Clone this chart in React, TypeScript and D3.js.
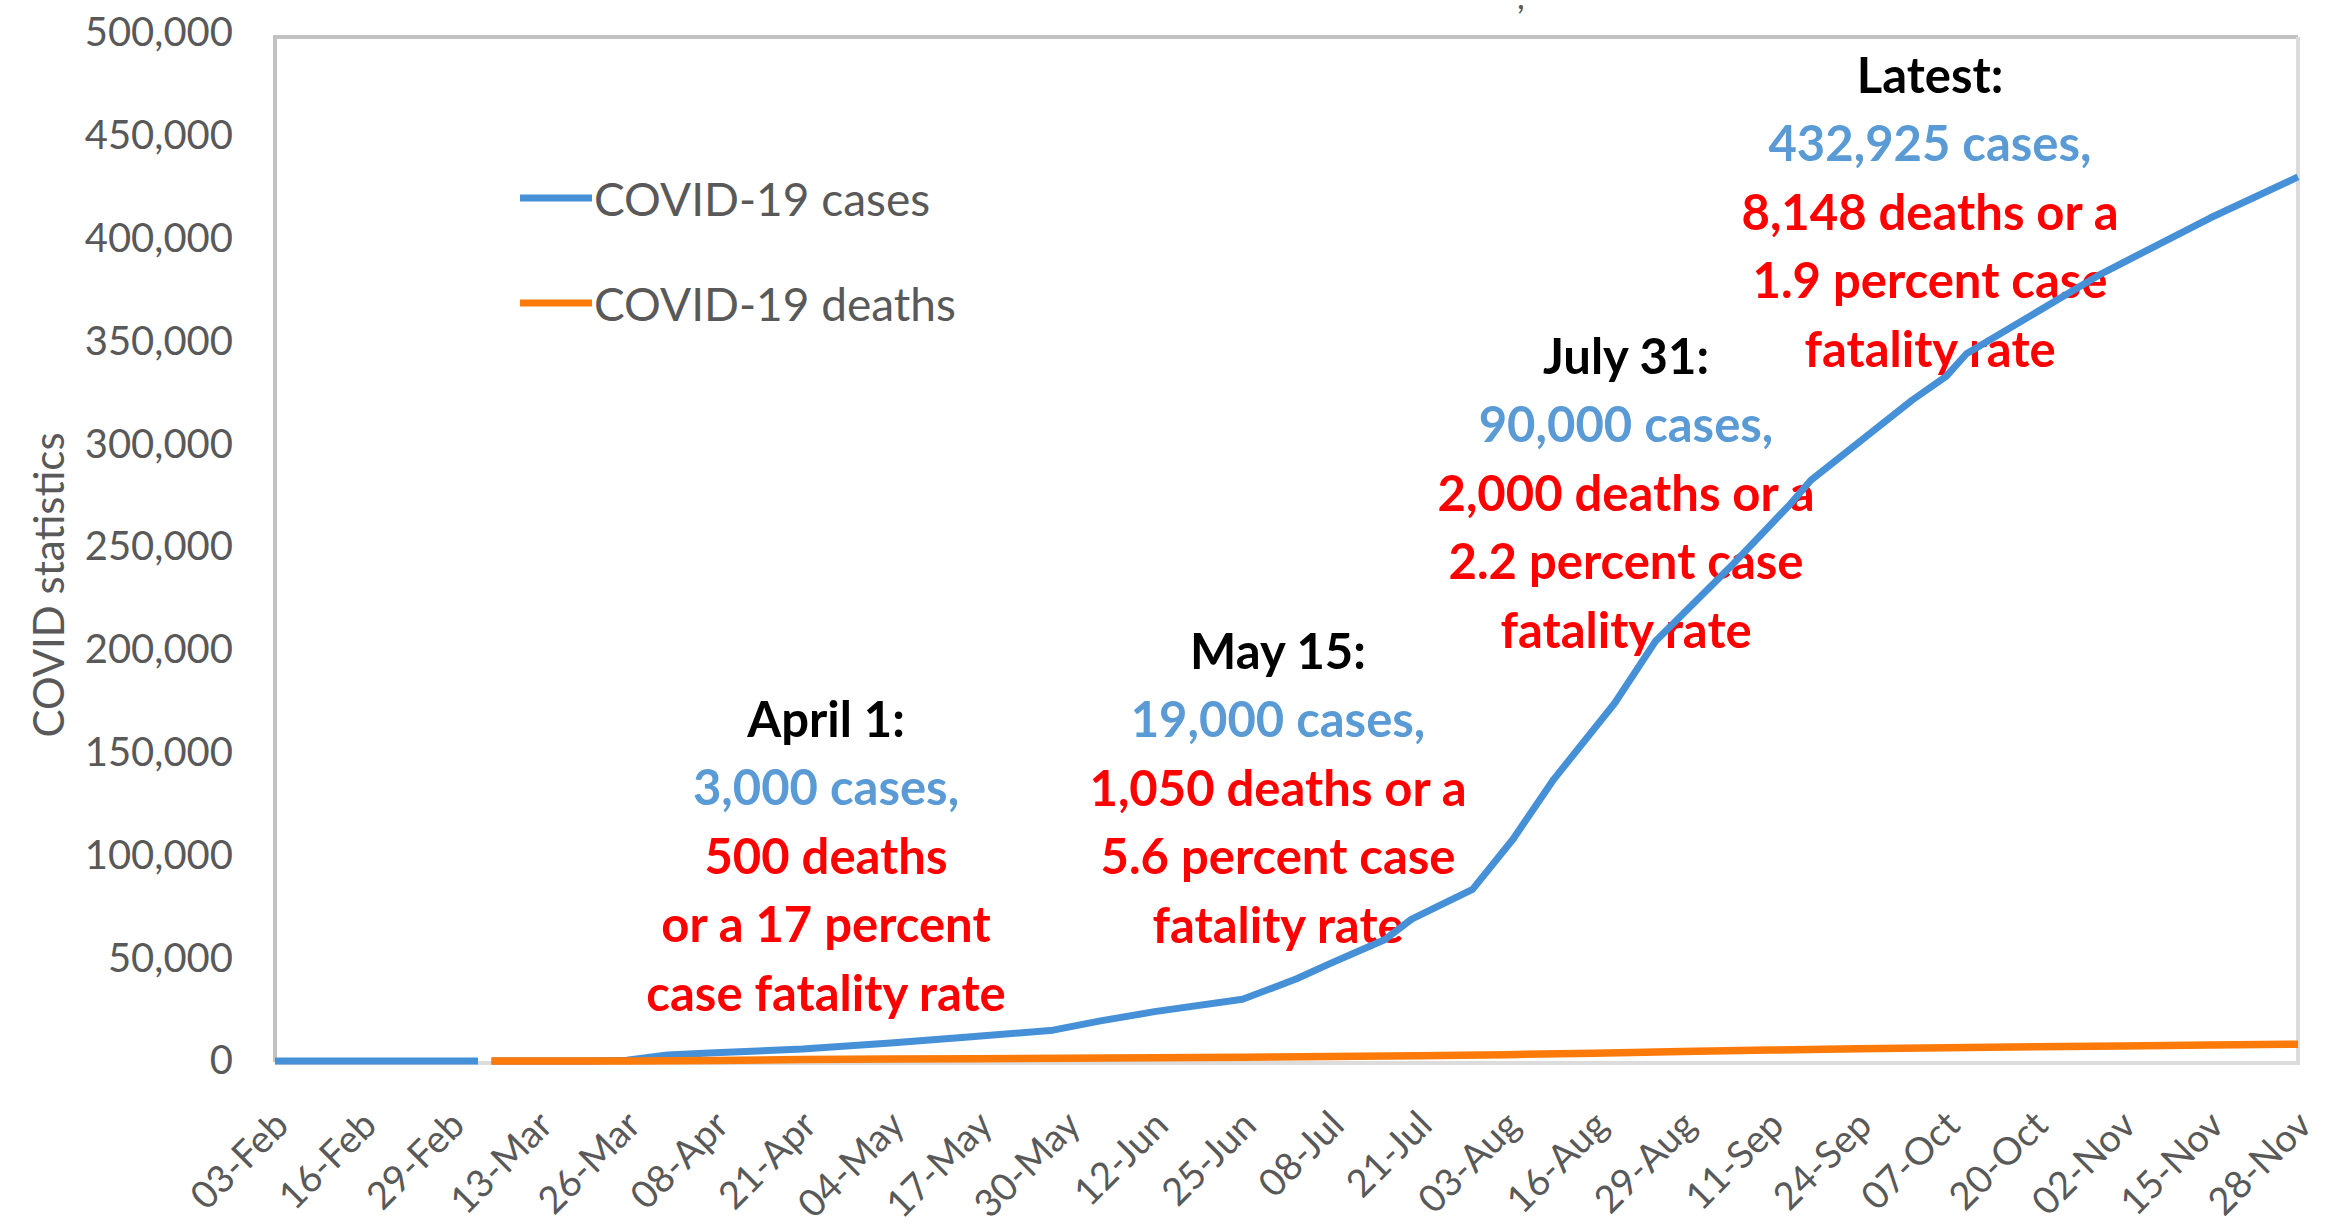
import React, { useEffect, useRef } from "react";
import * as d3 from "d3";

// cumulative cases (null = gap in the source line)
const caseDates = [
  "2020-02-03", "2020-02-16", "2020-02-29", "2020-03-04", "2020-03-05", "2020-03-06",
  "2020-03-13", "2020-03-20", "2020-03-26", "2020-04-01", "2020-04-08", "2020-04-21",
  "2020-05-04", "2020-05-15", "2020-05-28", "2020-06-04", "2020-06-12", "2020-06-25",
  "2020-07-03", "2020-07-08", "2020-07-16", "2020-07-20", "2020-07-29", "2020-08-04",
  "2020-08-10", "2020-08-19", "2020-08-25", "2020-09-05", "2020-09-14", "2020-09-17",
  "2020-10-02", "2020-10-07", "2020-10-10", "2020-10-30", "2020-11-15", "2020-11-28",
];
const caseValues = [
  0, 0, 0, 0, null, 0,
  0, 0, 400, 2900, 4000, 5800,
  8800, 11500, 15000, 19500, 24000, 30000,
  40000, 47500, 59000, 69000, 83500, 108000,
  137000, 174000, 204000, 240000, 271000, 282500,
  321500, 333000, 344000, 383000, 410000, 430000,
];

const deathDates = [
  "2020-03-06", "2020-03-26", "2020-04-08", "2020-04-21", "2020-05-04", "2020-05-17",
  "2020-05-30", "2020-06-12", "2020-06-25", "2020-07-08", "2020-07-21", "2020-08-03",
  "2020-08-16", "2020-08-29", "2020-09-11", "2020-09-24", "2020-10-07", "2020-10-20",
  "2020-11-02", "2020-11-15", "2020-11-28",
];
const deathValues = [
  0, 50, 300, 700, 950, 1150,
  1350, 1600, 1850, 2150, 2500, 3100,
  3800, 4600, 5300, 5900, 6400, 6900,
  7300, 7750, 8148,
];

const tickDates = [
  "2020-02-03", "2020-02-16", "2020-02-29", "2020-03-13", "2020-03-26", "2020-04-08",
  "2020-04-21", "2020-05-04", "2020-05-17", "2020-05-30", "2020-06-12", "2020-06-25",
  "2020-07-08", "2020-07-21", "2020-08-03", "2020-08-16", "2020-08-29", "2020-09-11",
  "2020-09-24", "2020-10-07", "2020-10-20", "2020-11-02", "2020-11-15", "2020-11-28",
];
const yTicks = [0, 50000, 100000, 150000, 200000, 250000, 300000, 350000, 400000, 450000, 500000];

const legendLabels = ["COVID-19 cases", "COVID-19 deaths"];

const noteHeads = ["April 1:", "May 15:", "July 31:", "Latest:"];
const noteCases = ["3,000 cases,", "19,000 cases,", "90,000 cases,", "432,925 cases,"];
const noteDeaths = [
  ["500 deaths", "or a 17 percent", "case fatality rate"],
  ["1,050 deaths or a", "5.6 percent case", "fatality rate"],
  ["2,000 deaths or a", "2.2 percent case", "fatality rate"],
  ["8,148 deaths or a", "1.9 percent case", "fatality rate"],
];

const W = 2331;
const H = 1229;
const left = 275;
const right = 2298;
const boxTop = 37;
const yTopPx = 33;
const yZeroPx = 1061;
const font = "Lato, 'Open Sans', sans-serif";
const blue = "#4690d8";
const orange = "#fb7a09";
const grey = "#595959";

const noteX = [826, 1278, 1626, 1930];
const noteTop = [718, 650, 355, 74];
const noteGap = 68.4;

export default function App() {
  const ref = useRef<SVGSVGElement>(null);

  useEffect(() => {
    const svg = d3.select(ref.current);
    svg.selectAll("*").remove();
    const parse = d3.utcParse("%Y-%m-%d");

    const x = d3.scaleUtc()
      .domain([parse(tickDates[0])!, parse(tickDates[tickDates.length - 1])!])
      .range([left, right]);
    const y = d3.scaleLinear().domain([0, 500000]).range([yZeroPx, yTopPx]);

    svg.append("rect").attr("width", W).attr("height", H).attr("fill", "#fff");

    // plot frame
    svg.append("path")
      .attr("d", `M${left},${yZeroPx + 1}V${boxTop}H${right}`)
      .attr("fill", "none").attr("stroke", "#c2c2c2").attr("stroke-width", 4);
    svg.append("path")
      .attr("d", `M${right},${boxTop}V${yZeroPx + 2}H${left}`)
      .attr("fill", "none").attr("stroke", "#dcdcdc").attr("stroke-width", 4);

    // y axis
    const yAxis = svg.append("g")
      .attr("transform", `translate(${left},0)`)
      .call(d3.axisLeft(y).tickValues(yTicks).tickSize(0).tickPadding(42).tickFormat(d3.format(",")));
    yAxis.select(".domain").remove();
    yAxis.selectAll("text")
      .attr("font-family", font).attr("font-size", 40).attr("fill", grey);

    // x axis
    const xAxis = svg.append("g")
      .attr("transform", `translate(0,${yZeroPx})`)
      .call(d3.axisBottom(x).tickValues(tickDates.map(d => parse(d)!)).tickSize(0).tickFormat(d3.utcFormat("%d-%b") as any));
    xAxis.select(".domain").remove();
    xAxis.selectAll("text")
      .attr("font-family", font).attr("font-size", 38).attr("fill", grey)
      .attr("text-anchor", "end")
      .attr("x", 0).attr("y", 0).attr("dy", "0.35em")
      .attr("transform", "translate(6,57) rotate(-45)");

    svg.append("text")
      .attr("transform", "translate(48,585) rotate(-90)")
      .attr("text-anchor", "middle").attr("dominant-baseline", "central")
      .attr("font-family", font).attr("font-size", 42).attr("fill", grey)
      .text("COVID statistics");

    // leftover of a cropped title
    svg.append("text")
      .attr("x", 1517).attr("y", 9)
      .attr("font-family", font).attr("font-size", 34).attr("fill", grey)
      .text(",");

    // legend
    const legend = svg.append("g").attr("font-family", font);
    [blue, orange].forEach((c, i) => {
      const ly = 198 + i * 105;
      legend.append("line")
        .attr("x1", 520).attr("x2", 592).attr("y1", ly).attr("y2", ly)
        .attr("stroke", c).attr("stroke-width", 7);
      legend.append("text")
        .attr("x", 594).attr("y", ly).attr("dominant-baseline", "central")
        .attr("font-size", 46).attr("fill", grey)
        .text(legendLabels[i]);
    });

    // annotations
    noteHeads.forEach((head, i) => {
      const g = svg.append("g")
        .attr("font-family", font).attr("font-weight", "bold")
        .attr("font-size", 49).attr("text-anchor", "middle");
      const lines = [head, noteCases[i], ...noteDeaths[i]];
      const colors = ["#000", "#5b9bd5", "#ff0000", "#ff0000", "#ff0000"];
      lines.forEach((t, j) => {
        g.append("text")
          .attr("x", noteX[i]).attr("y", noteTop[i] + j * noteGap)
          .attr("dominant-baseline", "central")
          .attr("fill", colors[j])
          .text(t);
      });
    });

    const line = d3.line<[string, number | null]>()
      .defined(d => d[1] !== null)
      .x(d => x(parse(d[0])!))
      .y(d => y(d[1] as number));

    svg.append("path")
      .datum(caseDates.map((d, i) => [d, caseValues[i]] as [string, number | null]))
      .attr("d", line)
      .attr("fill", "none").attr("stroke", blue).attr("stroke-width", 7)
      .attr("stroke-linejoin", "round");

    svg.append("path")
      .datum(deathDates.map((d, i) => [d, deathValues[i]] as [string, number | null]))
      .attr("d", line)
      .attr("fill", "none").attr("stroke", orange).attr("stroke-width", 7.5)
      .attr("stroke-linejoin", "round");
  }, []);

  return (
    <svg
      ref={ref}
      width={W}
      height={H}
      style={{ position: "absolute", left: 0, top: 0, display: "block" }}
    />
  );
}
